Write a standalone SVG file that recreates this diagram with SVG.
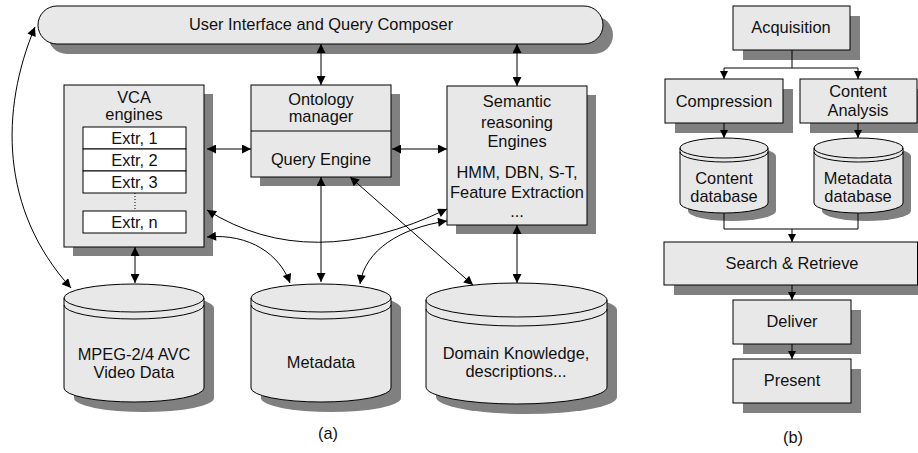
<svg xmlns="http://www.w3.org/2000/svg" width="918" height="453" viewBox="0 0 918 453">
<style>
.sh{fill:#808080;stroke:none}
.bx{fill:#e8e8e8;stroke:#000;stroke-width:1}
.wb{fill:#fff;stroke:#000;stroke-width:1}
.ln{fill:none;stroke:#000;stroke-width:1}
.t{font-family:"Liberation Sans",Arial,sans-serif;font-size:16.4px;fill:#111;text-anchor:middle}
.a{marker-start:url(#ah);marker-end:url(#ah)}
.e{marker-end:url(#ahs)}
</style>
<defs>
<marker id="ah" viewBox="0 0 10 10" refX="10" refY="5" markerWidth="11" markerHeight="9" orient="auto-start-reverse" markerUnits="userSpaceOnUse"><path d="M0,0 L10,5 L0,10 z" fill="#000"/></marker>
<marker id="ahs" viewBox="0 0 10 10" refX="10" refY="5" markerWidth="9" markerHeight="8" orient="auto" markerUnits="userSpaceOnUse"><path d="M0,0 L10,5 L0,10 z" fill="#000"/></marker>
</defs>
<rect width="918" height="453" fill="#fff"/>

<g id="ui">
<rect class="sh" x="48" y="16" width="565" height="38" rx="19"/>
<rect class="bx" x="38" y="6" width="565" height="38" rx="19"/>
<text class="t" x="321" y="30">User Interface and Query Composer</text>
</g>

<g id="vca">
<rect class="sh" x="73" y="94" width="140" height="162"/>
<rect class="bx" x="64" y="85" width="140" height="162"/>
<text class="t" x="134" y="103">VCA</text>
<text class="t" x="134" y="120">engines</text>
<rect class="wb" x="83" y="127" width="103" height="22"/>
<rect class="wb" x="83" y="149" width="103" height="22"/>
<rect class="wb" x="83" y="171" width="103" height="22"/>
<rect class="wb" x="83" y="211" width="103" height="22"/>
<line x1="135" y1="193" x2="135" y2="211" stroke="#000" stroke-dasharray="1,2"/>
<text class="t" x="134.5" y="144">Extr, 1</text>
<text class="t" x="134.5" y="166">Extr, 2</text>
<text class="t" x="134.5" y="188">Extr, 3</text>
<text class="t" x="134.5" y="228">Extr, n</text>
</g>

<g id="ontology">
<rect class="sh" x="260" y="94" width="140" height="92"/>
<rect class="bx" x="251" y="85" width="140" height="92"/>
<line class="ln" x1="251" y1="131" x2="391" y2="131"/>
<text class="t" x="321" y="105">Ontology</text>
<text class="t" x="321" y="122">manager</text>
<text class="t" x="321" y="165">Query Engine</text>
</g>

<g id="semantic">
<rect class="sh" x="456" y="95" width="140" height="139"/>
<rect class="bx" x="447" y="86" width="140" height="139"/>
<text class="t" x="517" y="107">Semantic</text>
<text class="t" x="517" y="128">reasoning</text>
<text class="t" x="517" y="147">Engines</text>
<text class="t" x="517" y="178">HMM, DBN, S-T,</text>
<text class="t" x="517" y="198">Feature Extraction</text>
<text class="t" x="517" y="217">...</text>
</g>

<g id="mpeg">
<path class="sh" d="M74,308 A70,14 0 0 1 214,308 V398 A70,14 0 0 1 74,398 Z"/>
<path class="bx" d="M64,298 A70,14 0 0 1 204,298 V388 A70,14 0 0 1 64,388 Z"/>
<path class="ln" d="M64,298 A70,14 0 0 0 204,298 M64,305 A70,14 0 0 0 204,305"/>
<text class="t" x="134" y="360">MPEG-2/4 AVC</text>
<text class="t" x="134" y="378">Video Data</text>
</g>

<g id="metadata">
<path class="sh" d="M261,308 A70,14 0 0 1 401,308 V398 A70,14 0 0 1 261,398 Z"/>
<path class="bx" d="M251,298 A70,14 0 0 1 391,298 V388 A70,14 0 0 1 251,388 Z"/>
<path class="ln" d="M251,298 A70,14 0 0 0 391,298 M251,305 A70,14 0 0 0 391,305"/>
<text class="t" x="321" y="368">Metadata</text>
</g>

<g id="domain">
<path class="sh" d="M436,310 A90.5,17 0 0 1 617,310 V397 A90.5,17 0 0 1 436,397 Z"/>
<path class="bx" d="M426,300 A90.5,17 0 0 1 607,300 V387 A90.5,17 0 0 1 426,387 Z"/>
<path class="ln" d="M426,300 A90.5,17 0 0 0 607,300 M426,309 A90.5,17 0 0 0 607,309"/>
<text class="t" x="516" y="359">Domain Knowledge,</text>
<text class="t" x="516" y="377">descriptions...</text>
</g>

<text class="t" x="328" y="439">(a)</text>

<g id="acquisition">
<rect class="sh" x="743" y="16" width="117" height="44"/>
<rect class="bx" x="733" y="6" width="117" height="44"/>
<text class="t" x="791" y="33">Acquisition</text>
</g>

<g id="compression">
<rect class="sh" x="675" y="89" width="118" height="44"/>
<rect class="bx" x="665" y="79" width="118" height="44"/>
<text class="t" x="724" y="107">Compression</text>
</g>

<g id="content-analysis">
<rect class="sh" x="810" y="89" width="117" height="44"/>
<rect class="bx" x="800" y="79" width="117" height="44"/>
<text class="t" x="858" y="97">Content</text>
<text class="t" x="858" y="116">Analysis</text>
</g>

<g id="content-db">
<path class="sh" d="M688,156 A44,10 0 0 1 776,156 V211 A44,10 0 0 1 688,211 Z"/>
<path class="bx" d="M680,148 A44,10 0 0 1 768,148 V203 A44,10 0 0 1 680,203 Z"/>
<path class="ln" d="M680,148 A44,10 0 0 0 768,148 M680,152 A44,10 0 0 0 768,152"/>
<text class="t" x="724" y="184">Content</text>
<text class="t" x="724" y="202">database</text>
</g>

<g id="metadata-db">
<path class="sh" d="M822,156 A44.5,10 0 0 1 911,156 V211 A44.5,10 0 0 1 822,211 Z"/>
<path class="bx" d="M814,148 A44.5,10 0 0 1 903,148 V203 A44.5,10 0 0 1 814,203 Z"/>
<path class="ln" d="M814,148 A44.5,10 0 0 0 903,148 M814,152 A44.5,10 0 0 0 903,152"/>
<text class="t" x="858" y="184">Metadata</text>
<text class="t" x="858" y="202">database</text>
</g>

<g id="search">
<rect class="sh" x="674" y="252" width="254" height="43"/>
<rect class="bx" x="664" y="242" width="253.5" height="43"/>
<text class="t" x="792" y="269">Search &amp; Retrieve</text>
</g>

<g id="deliver">
<rect class="sh" x="743" y="310" width="118" height="44"/>
<rect class="bx" x="733" y="300" width="118" height="44"/>
<text class="t" x="792" y="327">Deliver</text>
</g>

<g id="present">
<rect class="sh" x="743" y="369" width="118" height="44"/>
<rect class="bx" x="733" y="359" width="118" height="44"/>
<text class="t" x="792" y="386">Present</text>
</g>

<text class="t" x="793" y="443">(b)</text>

<g id="connectors">
<path class="ln a" d="M321,44 V85"/>
<path class="ln a" d="M517,44 V86"/>
<path class="ln a" d="M207,149 H251"/>
<path class="ln a" d="M392,149 H447"/>
<path class="ln a" d="M135,247 V283"/>
<path class="ln a" d="M321,177 V282"/>
<path class="ln a" d="M350,177 L473,285"/>
<path class="ln a" d="M517,225 V283"/>
<path class="ln a" d="M207,210 Q310,275 447,209"/>
<path class="ln a" d="M207,237 C250,233 280,255 290,283"/>
<path class="ln a" d="M447,221 C400,228 365,250 360,284"/>
<path class="ln a" d="M35,27 C0,110 0,210 71,288"/>

<path class="ln" d="M792,50 V68 M724,68 H858"/>
<path class="ln e" d="M724,68 V79"/>
<path class="ln e" d="M858,68 V79"/>
<path class="ln e" d="M724,123 V138"/>
<path class="ln e" d="M858,123 V138"/>
<path class="ln" d="M724,213 V229 H858 V213"/>
<path class="ln e" d="M792,229 V242"/>
<path class="ln e" d="M792,285 V300"/>
<path class="ln e" d="M792,344 V359"/>
</g>
</svg>
